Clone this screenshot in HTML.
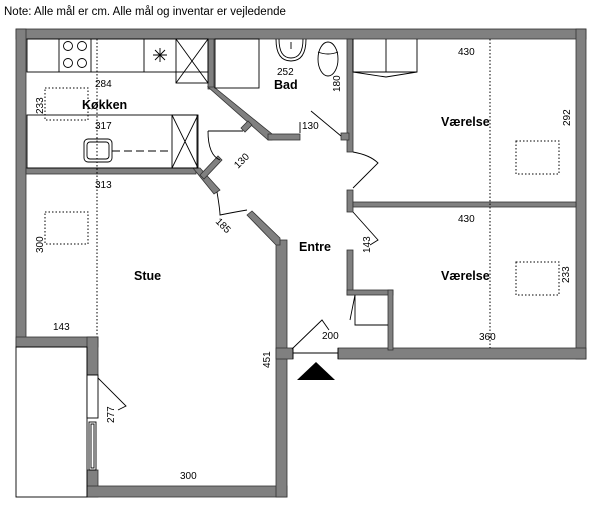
<!DOCTYPE html>
<html><head><style>
body{margin:0;background:#fff;}
svg{display:block;}
text{font-family:"Liberation Sans",sans-serif;fill:#000;}
</style></head><body>
<svg width="600" height="508" viewBox="0 0 600 508" xmlns="http://www.w3.org/2000/svg">
<text x="4" y="15" font-size="11.5">Note: Alle mål er cm. Alle mål og inventar er vejledende</text>
<g fill="#808080" stroke="#333" stroke-width="0.8">
<rect x="16" y="29" width="570" height="10"/>
<rect x="16" y="29" width="10" height="318"/>
<rect x="576" y="29" width="10" height="330"/>
<rect x="16" y="337" width="82" height="10"/>
<rect x="87" y="337" width="11" height="38"/>
<rect x="87" y="470" width="11" height="27"/>
<rect x="87" y="486" width="200" height="11"/>
<rect x="276" y="240" width="11" height="257"/>
<rect x="276" y="348" width="17" height="11"/>
<rect x="338" y="348" width="248" height="11"/>
<rect x="26" y="168" width="170" height="6"/>
<polygon points="193,168 200,168 220,190 214,194"/>
<polygon points="200,175 218,156 222,160 204,179"/>
<polygon points="247,215 252,211 280,238 280,245 276,245"/>
<rect x="208" y="39" width="6" height="50"/>
<polygon points="208,87 214,87 272,134 272,140 268,140"/>
<rect x="268" y="134" width="32" height="6"/>
<polygon points="241,128 248,121 252,125 245,132"/>
<rect x="347" y="39" width="6" height="113"/>
<rect x="341" y="133" width="8" height="7"/>
<rect x="347" y="190" width="6" height="22"/>
<rect x="353" y="202" width="223" height="5"/>
<rect x="347" y="250" width="6" height="45"/>
<rect x="347" y="290" width="46" height="5"/>
<rect x="388" y="290" width="5" height="60"/>
</g>
<g fill="none" stroke="#000" stroke-width="0.9">
<rect x="16" y="347" width="71" height="150"/>
<rect x="87" y="375" width="11" height="43" fill="#fff"/>
<rect x="89" y="422" width="7" height="48"/>
<rect x="91" y="424" width="3" height="44"/>
<path d="M98,378 L126,406 L118,410"/>
<rect x="27" y="39" width="181" height="33"/>
<line x1="59" y1="39" x2="59" y2="72"/><line x1="91" y1="39" x2="91" y2="72"/>
<circle cx="68" cy="46" r="4.5"/><circle cx="82" cy="46" r="4.5"/>
<circle cx="68" cy="63" r="4.5"/><circle cx="82" cy="63" r="4.5"/>
<line x1="144" y1="39" x2="144" y2="72"/>
<path d="M160,48 L160,62 M153,55 L167,55 M155,50 L165,60 M165,50 L155,60"/>
<rect x="176" y="39" width="32" height="44"/>
<path d="M176,39 L208,83 M208,39 L176,83"/>
<rect x="27" y="115" width="170" height="53"/>
<rect x="84" y="139" width="28" height="23" rx="4"/>
<rect x="87" y="142" width="22" height="17" rx="3"/>
<line x1="112" y1="151" x2="172" y2="151" stroke-dasharray="8,4"/>
<rect x="172" y="115" width="26" height="53"/>
<path d="M172,115 L198,168 M198,115 L172,168"/>
<path d="M208,131 L243,131 M208,131 Q208,155 220,160"/>
<path d="M217,192 Q220,210 220,215 Q235,212 247,210"/>
<rect x="215" y="39" width="44" height="49"/>
<path d="M276,39 Q276,61 291,61 Q306,61 306,39"/>
<path d="M279,39 Q279,58 291,58 Q303,58 303,39"/>
<line x1="291" y1="42" x2="291" y2="49"/>
<ellipse cx="328" cy="59" rx="10" ry="17"/>
<path d="M318,52 Q328,56 338,52"/>
<path d="M300,133 L300,122 M311,111 L341,136"/>
<path d="M353,152 Q370,155 378,163 L353,188"/>
<path d="M353,212 L378,240 L370,245"/>
<path d="M292,349 L322,320 L329,330"/>
<line x1="293" y1="348" x2="293" y2="359"/><line x1="338" y1="348" x2="338" y2="359"/>
<line x1="293" y1="353" x2="338" y2="353"/>
<path d="M355,295 L355,325 L388,325 M355,295 L350,320"/>
<path d="M353,39 L353,72 L417,72 L417,39 M386,39 L386,72 M353,72 L386,77 L417,72"/>
</g>
<g fill="none" stroke="#000" stroke-width="1" stroke-dasharray="1.5,2">
<line x1="97" y1="39" x2="97" y2="337"/>
<line x1="490" y1="39" x2="490" y2="348"/>
<rect x="45" y="88" width="43" height="32"/>
<rect x="45" y="212" width="43" height="32"/>
<rect x="516" y="141" width="43" height="33"/>
<rect x="516" y="262" width="43" height="33"/>
</g>
<polygon points="297,380 335,380 316,362" fill="#000"/>
<g font-size="10">
<text x="95" y="87">284</text>
<text x="95" y="129">317</text>
<text x="95" y="188">313</text>
<text x="53" y="330">143</text>
<text x="180" y="479">300</text>
<text x="277" y="75">252</text>
<text x="302" y="129">130</text>
<text x="458" y="55">430</text>
<text x="458" y="222">430</text>
<text x="479" y="340">360</text>
<text x="322" y="339">200</text>
<text transform="translate(43,114) rotate(-90)">233</text>
<text transform="translate(43,253) rotate(-90)">300</text>
<text transform="translate(114,423) rotate(-90)">277</text>
<text transform="translate(270,368) rotate(-90)">451</text>
<text transform="translate(340,92) rotate(-90)">180</text>
<text transform="translate(570,126) rotate(-90)">292</text>
<text transform="translate(569,283) rotate(-90)">233</text>
<text transform="translate(370,253) rotate(-90)">143</text>
<text transform="translate(238,169) rotate(-45)">130</text>
<text transform="translate(215,222) rotate(45)">185</text>
</g>
<g font-size="12.5" font-weight="bold">
<text x="82" y="109">Køkken</text>
<text x="274" y="89">Bad</text>
<text x="441" y="126">Værelse</text>
<text x="441" y="280">Værelse</text>
<text x="299" y="251">Entre</text>
<text x="134" y="280">Stue</text>
</g>
</svg>
</body></html>
